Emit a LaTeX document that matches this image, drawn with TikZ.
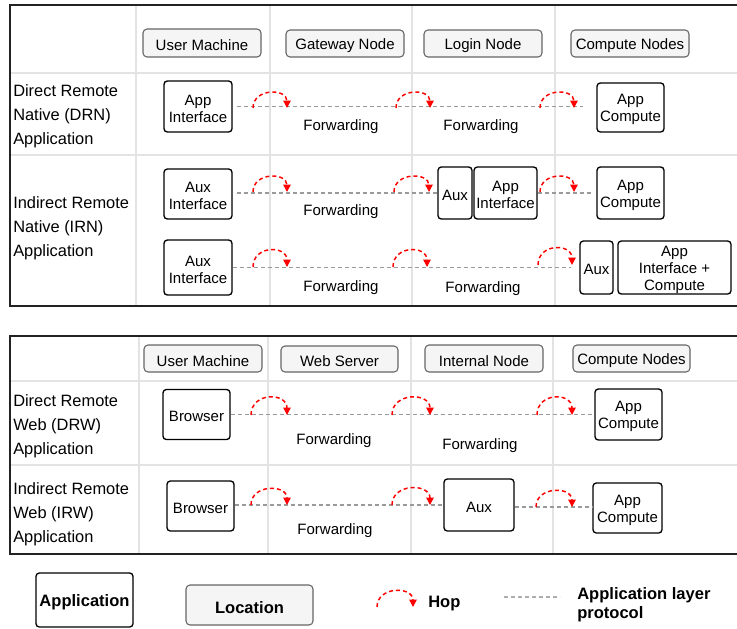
\documentclass[tikz,border=0pt]{standalone}
\usepackage{fontspec}
\setmainfont{Liberation Sans}
\usetikzlibrary{arrows.meta}
\definecolor{hdrfill}{HTML}{F5F5F5}
\definecolor{hdrdraw}{HTML}{666666}
\definecolor{gridc}{HTML}{E3E3E3}
\definecolor{protoc}{HTML}{9A9A9A}
\definecolor{panelc}{HTML}{222222}
\newcommand\hoparrow[4]{\draw[hoparc] (#1,#2) .. controls (#1,#2-#4) and (#1+#3,#2-#4) .. (#1+#3,#2);}
\begin{document}
\begin{tikzpicture}[x=0.75pt,y=-0.75pt,
  sz/.style 2 args={minimum width=#1*0.75pt, minimum height=#2*0.75pt},
  boxtxt/.style={inner sep=0pt, align=center, yshift=-1.6pt, font=\fontsize{11.25pt}{12.75pt}\selectfont},
  legboxtxt/.style={inner sep=0pt, align=center, yshift=-1.8pt, font=\bfseries\fontsize{12.4pt}{14.25pt}\selectfont},
  lab/.style={label={[boxtxt]center:{#1}}},
  leglab/.style={label={[legboxtxt]center:{#1}}},
  appbox/.style={draw=black, line width=1pt, rounded corners=2.5pt, fill=white, inner sep=0pt},
  hdrbox/.style={draw=hdrdraw, fill=hdrfill, line width=0.8pt, rounded corners=3pt, inner sep=0pt},
  lbl/.style={anchor=west, align=left, inner sep=0pt, font=\fontsize{12.3pt}{18pt}\selectfont},
  fwd/.style={inner sep=0pt, font=\fontsize{11.25pt}{12.75pt}\selectfont},
  proto/.style={draw=protoc, line width=1pt, dash pattern=on 3pt off 2.25pt},
  hoparc/.style={draw=red, line width=1.1pt, dash pattern=on 3pt off 2.25pt, -{Triangle[width=5.5pt,length=5.5pt]}},
  gridline/.style={draw=gridc, line width=1pt},
  panel/.style={draw=panelc, line width=1.2pt},
  legtxt/.style={inner sep=0pt, font=\bfseries\fontsize{12.4pt}{14.25pt}\selectfont, align=left},
]
\useasboundingbox (0,0) rectangle (737,628);

% ---------- grid lines ----------
\foreach \x in {136,270,412,555} \draw[gridline] (\x,5) -- (\x,306);
\foreach \y in {73,155} \draw[gridline] (10,\y) -- (745,\y);
\foreach \x in {139,268,411,553} \draw[gridline] (\x,336) -- (\x,554);
\foreach \y in {381,465} \draw[gridline] (10,\y) -- (745,\y);

% ---------- panels ----------
\draw[panel] (10,5) rectangle (745,306);
\draw[panel] (10,336) rectangle (745,554);

% ---------- top panel headers ----------
\node[hdrbox, sz={118}{28}, lab={User Machine}] (h1) at (202,43) {};
\node[hdrbox, sz={118}{27}, lab={Gateway Node}] (h2) at (345,43.5) {};
\node[hdrbox, sz={118}{27}, lab={Login Node}] (h3) at (483,43.5) {};
\node[hdrbox, sz={118}{27}, lab={Compute Nodes}] (h4) at (630,43.5) {};

% ---------- row labels ----------
\node[lbl] (l1) at (13,116) {Direct Remote\\Native (DRN)\\Application};
\node[lbl] (l2) at (13,228) {Indirect Remote\\Native (IRN)\\Application};
\node[lbl] (l3) at (13,426) {Direct Remote\\Web (DRW)\\Application};
\node[lbl] (l4) at (13,514) {Indirect Remote\\Web (IRW)\\Application};

% ---------- DRN ----------
\node[appbox, sz={68}{51}, lab={App\\Interface}] (drnAI) at (198,106.5) {};
\node[appbox, sz={67}{49}, lab={App\\Compute}] (drnAC) at (630.5,107.5) {};
\draw[proto, shorten <=3pt, shorten >=10pt] (drnAI.east) -- (drnAI.east -| drnAC.west);
\node[fwd] (f1) at (341,127) {Forwarding};
\node[fwd] (f2) at (481,127) {Forwarding};

% ---------- IRN row a ----------
\node[appbox, sz={68}{50}, lab={Aux\\Interface}] (irnAI1) at (198,194) {};
\node[appbox, sz={34}{52}, lab={Aux}] (irnAux1) at (455,193) {};
\node[appbox, sz={63}{52}, lab={App\\Interface}] (irnAppI) at (505.5,193) {};
\node[appbox, sz={67}{52}, lab={App\\Compute}] (irnAC) at (630.5,193) {};
\draw[proto, shorten <=3pt] (irnAI1.east |- irnAux1.west) -- (irnAux1.west);
\draw[proto, shorten >=3pt] (irnAppI.east) -- (irnAC.west);
\node[fwd] (f3) at (341,212) {Forwarding};

% ---------- IRN row b ----------
\node[appbox, sz={68}{55}, lab={Aux\\Interface}] (irnAI2) at (198,267.5) {};
\node[appbox, sz={33}{53}, lab={Aux}] (irnAux2) at (596.5,267.5) {};
\node[appbox, sz={113}{53}, lab={App\\Interface +\\Compute}] (irnAIC) at (674.5,267.5) {};
\draw[proto, shorten >=6pt] (irnAI2.east) -- (irnAux2.west);
\node[fwd] (f4) at (341,288) {Forwarding};
\node[fwd] (f5) at (483,289) {Forwarding};

% ---------- bottom panel headers ----------
\node[hdrbox, sz={118}{27}, lab={User Machine}] (b1) at (203,358.5) {};
\node[hdrbox, sz={117}{26}, lab={Web Server}] (b2) at (339.5,359) {};
\node[hdrbox, sz={118}{27}, lab={Internal Node}] (b3) at (484,358.5) {};
\node[hdrbox, sz={117}{27}, lab={Compute Nodes}] (b4) at (631.5,358.5) {};

% ---------- DRW ----------
\node[appbox, sz={67}{50}, lab={Browser}] (drwB) at (196.5,414.5) {};
\node[appbox, sz={67}{51}, lab={App\\Compute}] (drwAC) at (628.5,414.5) {};
\draw[proto] (drwB.east) -- (drwAC.west);
\node[fwd] (f6) at (334,441) {Forwarding};
\node[fwd] (f7) at (480,446) {Forwarding};

% ---------- IRW ----------
\node[appbox, sz={67}{50}, lab={Browser}] (irwB) at (200.5,506) {};
\node[appbox, sz={70}{52}, lab={Aux}] (irwAux) at (479,505) {};
\node[appbox, sz={69}{50}, lab={App\\Compute}] (irwAC) at (627.5,508) {};
\draw[proto] (irwB.east |- irwAux.west) -- (irwAux.west);
\draw[proto] ([yshift=-1.5pt]irwAux.east) -- ([yshift=-1.5pt]irwAux.east -| irwAC.west);
\node[fwd] (f8) at (335,531) {Forwarding};

% ---------- hops ----------
\hoparrow{253}{108}{34}{20}
\hoparrow{396}{108}{34}{20}
\hoparrow{540}{108}{34}{20}
\hoparrow{253}{192}{34}{20}
\hoparrow{394}{192}{35}{20}
\hoparrow{540}{192}{34}{20}
\hoparrow{253}{267}{34}{22}
\hoparrow{393}{267}{34}{22}
\hoparrow{538}{265}{34}{22}
\hoparrow{251}{415}{36}{23}
\hoparrow{392}{415}{38}{23}
\hoparrow{537}{415}{35}{23}
\hoparrow{251}{505}{36}{21}
\hoparrow{392}{505}{38}{22}
\hoparrow{536}{507}{36}{21}

% ---------- legend ----------
\node[appbox, sz={97}{54}, leglab={Application}] (legApp) at (84.5,600) {};
\node[hdrbox, sz={127}{40}, leglab={Location}] (legLoc) at (249.5,605) {};
\hoparrow{377}{607}{36}{21}
\node[legtxt, anchor=west] (legHop) at (428,604) {Hop};
\coordinate (pA) at (504,597);
\coordinate (pB) at (560,597);
\draw[proto, draw=protoc!80] (pA) -- (pB);
\node[legtxt, anchor=west] (legProto) at (577,605) {Application layer\\protocol};
\end{tikzpicture}
\end{document}
